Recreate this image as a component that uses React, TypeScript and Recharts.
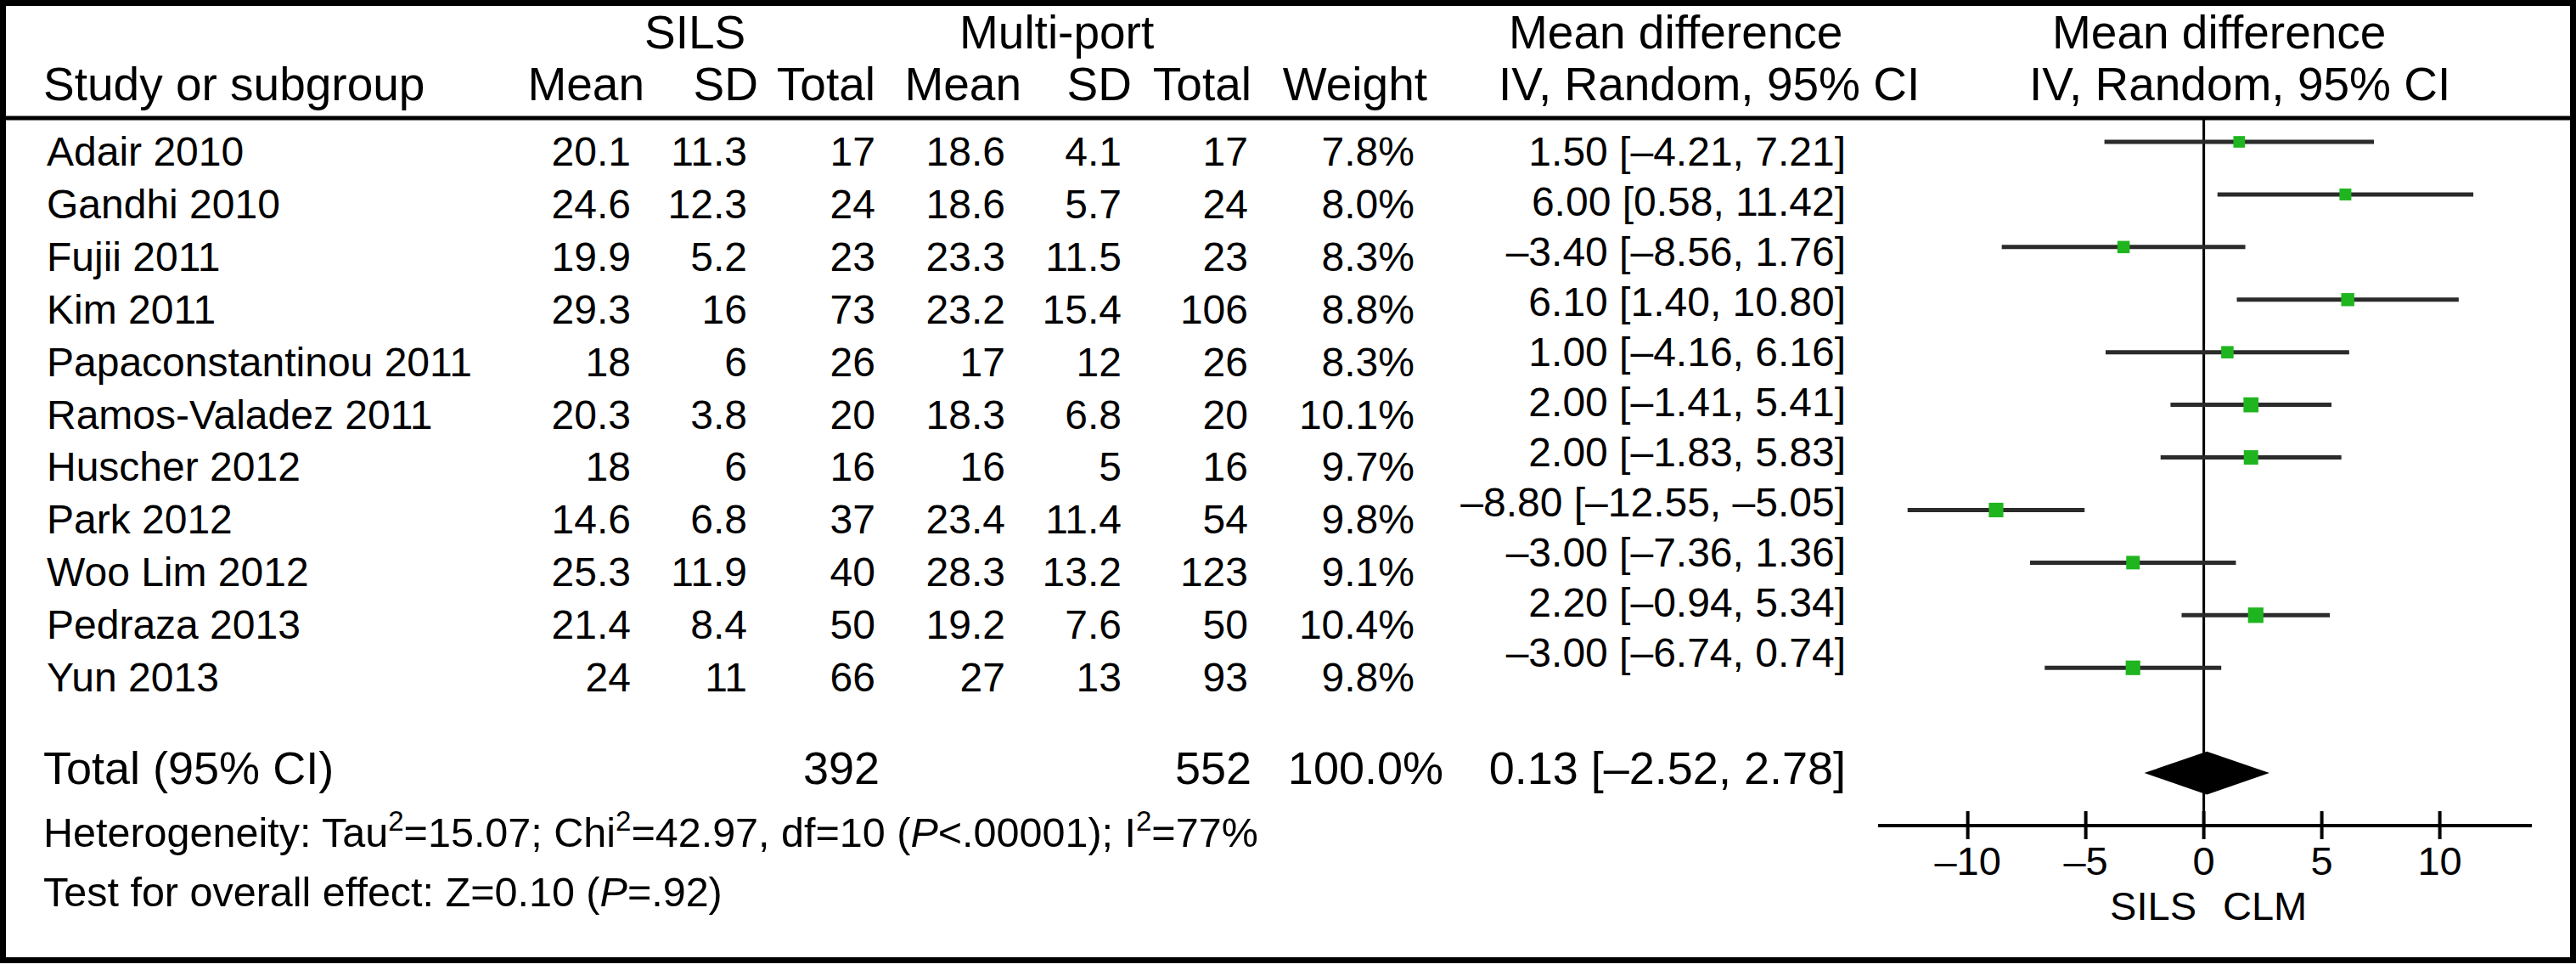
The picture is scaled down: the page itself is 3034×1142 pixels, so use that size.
import React from 'react';
import { ScatterChart, Scatter, XAxis, YAxis, ReferenceLine, ReferenceArea } from 'recharts';

const W = 3034;
const H = 1142;
const FONT = '"Liberation Sans", Arial, Helvetica, sans-serif';
const GREEN = '#1fb51f';

// study table
const studies = [
  'Adair 2010', 'Gandhi 2010', 'Fujii 2011', 'Kim 2011', 'Papaconstantinou 2011',
  'Ramos-Valadez 2011', 'Huscher 2012', 'Park 2012', 'Woo Lim 2012', 'Pedraza 2013', 'Yun 2013',
];
const silsMean = ['20.1', '24.6', '19.9', '29.3', '18', '20.3', '18', '14.6', '25.3', '21.4', '24'];
const silsSd = ['11.3', '12.3', '5.2', '16', '6', '3.8', '6', '6.8', '11.9', '8.4', '11'];
const silsTotal = [17, 24, 23, 73, 26, 20, 16, 37, 40, 50, 66];
const multiMean = ['18.6', '18.6', '23.3', '23.2', '17', '18.3', '16', '23.4', '28.3', '19.2', '27'];
const multiSd = ['4.1', '5.7', '11.5', '15.4', '12', '6.8', '5', '11.4', '13.2', '7.6', '13'];
const multiTotal = [17, 24, 23, 106, 26, 20, 16, 54, 123, 50, 93];
const weights = [7.8, 8.0, 8.3, 8.8, 8.3, 10.1, 9.7, 9.8, 9.1, 10.4, 9.8];

// mean difference and 95% CI
const md = [1.5, 6.0, -3.4, 6.1, 1.0, 2.0, 2.0, -8.8, -3.0, 2.2, -3.0];
const ciLow = [-4.21, 0.58, -8.56, 1.4, -4.16, -1.41, -1.83, -12.55, -7.36, -0.94, -6.74];
const ciHigh = [7.21, 11.42, 1.76, 10.8, 6.16, 5.41, 5.83, -5.05, 1.36, 5.34, 0.74];

// pooled
const totalSils = 392;
const totalMulti = 552;
const totalWeight = 100.0;
const totalMd = 0.13;
const totalLow = -2.52;
const totalHigh = 2.78;

const xTicks = [-10, -5, 0, 5, 10];

const rows = studies.map((name, i) => ({
  name,
  row: i,
  md: md[i],
  lo: ciLow[i],
  hi: ciHigh[i],
  weight: weights[i],
}));
const TOTAL_ROW = 12;

const num = (v: number) => (v < 0 ? '–' : '') + Math.abs(v).toFixed(2);
const ciText = (m: number, l: number, h: number) => `${num(m)} [${num(l)}, ${num(h)}]`;

function Square(props: any) {
  const { cx, cy, payload } = props;
  const s = payload.weight * 1.75;
  return <rect x={cx - s / 2} y={cy - s / 2} width={s} height={s} fill={GREEN} />;
}

function Diamond(props: any) {
  const { x, y, width, height } = props;
  const peak = x + (width * (totalMd - totalLow)) / (totalHigh - totalLow);
  const mid = y + height / 2;
  return (
    <polygon
      points={`${x},${mid} ${peak},${y} ${x + width},${mid} ${peak},${y + height}`}
      fill="#000"
    />
  );
}

function AxisTick(props: any) {
  const { x, y, payload } = props;
  const v = payload.value as number;
  return (
    <g>
      <line x1={x} x2={x} y1={y - 17} y2={y + 16} stroke="#000" strokeWidth={4} />
      <text x={x} y={y + 58} textAnchor="middle" fontFamily={FONT} fontSize={47} fill="#000">
        {v < 0 ? '–' + Math.abs(v) : String(v)}
      </text>
    </g>
  );
}

const T = (p: any) => <text fontFamily={FONT} fill="#000" {...p} />;

function Table() {
  const hs = 55;
  const fs = 48;
  return (
    <svg width={W} height={H} style={{ position: 'absolute', left: 0, top: 0 }}>
      <rect x={3.5} y={3.5} width={W - 7} height={1127} fill="#fff" stroke="#000" strokeWidth={7} />
      <line x1={0} x2={W} y1={139} y2={139} stroke="#000" strokeWidth={5} />

      <T x={759} y={57} fontSize={hs}>SILS</T>
      <T x={1130} y={57} fontSize={hs}>Multi-port</T>
      <T x={1777} y={57} fontSize={hs}>Mean difference</T>
      <T x={2417} y={57} fontSize={hs}>Mean difference</T>

      <T x={51} y={118} fontSize={hs}>Study or subgroup</T>
      <T x={759} y={118} fontSize={hs} textAnchor="end">Mean</T>
      <T x={893} y={118} fontSize={hs} textAnchor="end">SD</T>
      <T x={1031} y={118} fontSize={hs} textAnchor="end">Total</T>
      <T x={1203} y={118} fontSize={hs} textAnchor="end">Mean</T>
      <T x={1333} y={118} fontSize={hs} textAnchor="end">SD</T>
      <T x={1474} y={118} fontSize={hs} textAnchor="end">Total</T>
      <T x={1681} y={118} fontSize={hs} textAnchor="end">Weight</T>
      <T x={1765} y={118} fontSize={hs}>IV, Random, 95% CI</T>
      <T x={2390} y={118} fontSize={hs}>IV, Random, 95% CI</T>

      {studies.map((s, i) => {
        const y = 195 + 61.9 * i;
        return (
          <g key={s}>
            <T x={55} y={y} fontSize={fs}>{s}</T>
            <T x={743} y={y} fontSize={fs} textAnchor="end">{silsMean[i]}</T>
            <T x={880} y={y} fontSize={fs} textAnchor="end">{silsSd[i]}</T>
            <T x={1031} y={y} fontSize={fs} textAnchor="end">{silsTotal[i]}</T>
            <T x={1184} y={y} fontSize={fs} textAnchor="end">{multiMean[i]}</T>
            <T x={1321} y={y} fontSize={fs} textAnchor="end">{multiSd[i]}</T>
            <T x={1470} y={y} fontSize={fs} textAnchor="end">{multiTotal[i]}</T>
            <T x={1666} y={y} fontSize={fs} textAnchor="end">{weights[i].toFixed(1)}%</T>
            <T x={2174} y={195 + 59 * i} fontSize={fs} textAnchor="end">
              {ciText(md[i], ciLow[i], ciHigh[i])}
            </T>
          </g>
        );
      })}

      <T x={51} y={923} fontSize={54}>Total (95% CI)</T>
      <T x={1036} y={923} fontSize={54} textAnchor="end">{totalSils}</T>
      <T x={1474} y={923} fontSize={54} textAnchor="end">{totalMulti}</T>
      <T x={1700} y={923} fontSize={54} textAnchor="end">{totalWeight.toFixed(1)}%</T>
      <T x={2174} y={923} fontSize={54} textAnchor="end">{ciText(totalMd, totalLow, totalHigh)}</T>

      <T x={51} y={997} fontSize={48.5}>
        Heterogeneity: Tau<tspan dy={-19} fontSize={33}>2</tspan>
        <tspan dy={19}>=15.07; Chi</tspan>
        <tspan dy={-19} fontSize={33}>2</tspan>
        <tspan dy={19}>=42.97, df=10 (</tspan>
        <tspan fontStyle="italic">P</tspan>
        <tspan>&lt;.00001); I</tspan>
        <tspan dy={-19} fontSize={33}>2</tspan>
        <tspan dy={19}>=77%</tspan>
      </T>
      <T x={51} y={1067} fontSize={48.5}>
        Test for overall effect: Z=0.10 (<tspan fontStyle="italic">P</tspan>=.92)
      </T>

      <T x={2587} y={1083} fontSize={47} textAnchor="end">SILS</T>
      <T x={2618} y={1083} fontSize={47}>CLM</T>
    </svg>
  );
}

export default function App() {
  return (
    <div style={{ position: 'absolute', left: 0, top: 0, width: W, height: H, background: '#fff' }}>
      <Table />
      <div style={{ position: 'absolute', left: 0, top: 0 }}>
        <ScatterChart
          width={W}
          height={H}
          margin={{ top: 141, right: 52, bottom: 110, left: 2212 }}
        >
          <XAxis
            type="number"
            dataKey="md"
            domain={[-13.8, 13.9]}
            ticks={xTicks}
            height={60}
            axisLine={{ stroke: '#000', strokeWidth: 4 }}
            tickLine={false}
            tickSize={0}
            tickMargin={0}
            tick={AxisTick}
            allowDataOverflow
          />
          <YAxis type="number" dataKey="row" domain={[-0.42, 13]} reversed hide allowDataOverflow />
          <ReferenceLine x={0} stroke="#000" strokeWidth={3} />
          {rows.map((r) => (
            <ReferenceLine
              key={r.name}
              segment={[{ x: r.lo, y: r.row }, { x: r.hi, y: r.row }]}
              stroke="#2b2b2b"
              strokeWidth={5}
            />
          ))}
          <ReferenceArea
            x1={totalLow}
            x2={totalHigh}
            y1={TOTAL_ROW - 0.41}
            y2={TOTAL_ROW + 0.41}
            shape={Diamond}
          />
          <Scatter data={rows} shape={Square} isAnimationActive={false} />
        </ScatterChart>
      </div>
    </div>
  );
}
